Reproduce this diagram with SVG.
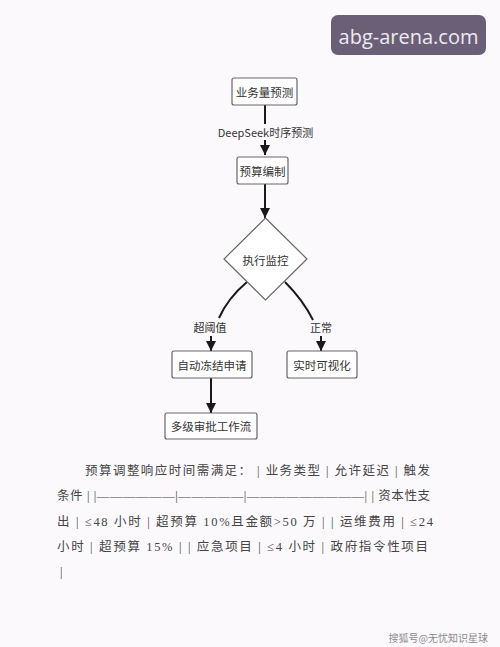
<svg xmlns="http://www.w3.org/2000/svg" width="500" height="647" viewBox="0 0 500 647">
<style>
.node{fill:#fff;stroke:#666;stroke-width:1.2}
.nt{font-family:"Noto Sans CJK SC","Liberation Sans",sans-serif;font-size:11.5px;fill:#333;text-anchor:middle;dominant-baseline:central}
.el{font-family:"Noto Sans CJK SC","Liberation Sans",sans-serif;font-size:11px;fill:#333;text-anchor:middle;dominant-baseline:central}
.edge{fill:none;stroke:#1a1a1a;stroke-width:2}
.body{font-family:"Liberation Serif","Noto Sans CJK SC",serif;font-size:12.5px;fill:#444}
</style>
<defs>
<marker id="ah" viewBox="0 0 10 10" refX="10" refY="5" markerWidth="5" markerHeight="5" orient="auto" markerUnits="strokeWidth">
<path d="M0,0 L10,5 L0,10 z" fill="#1a1a1a"/>
</marker>
</defs>
<rect width="500" height="647" fill="#fcf9fd"/>
<g id="watermark">
<rect x="331" y="15" width="155" height="40" rx="7" fill="#6b5f78"/>
<text x="408.5" y="36" font-family="Open Sans,'Noto Sans',sans-serif" font-size="20" fill="#eeeaf2" text-anchor="middle" dominant-baseline="central">abg-arena.com</text>
</g>
<g id="connectors">
<line class="edge" x1="265" y1="105" x2="265" y2="155" marker-end="url(#ah)"/>
<rect x="216" y="124" width="100" height="16" fill="#fcf9fd"/>
<text class="el" x="265.5" y="132">DeepSeek时序预测</text>
<line class="edge" x1="265" y1="184" x2="265" y2="218" marker-end="url(#ah)"/>
<path class="edge" d="M247,282 Q228,298 219,318"/>
<text class="el" x="210" y="327">超阈值</text>
<line class="edge" x1="211" y1="336" x2="211" y2="351" marker-end="url(#ah)"/>
<path class="edge" d="M285,282 Q303,300 313,320"/>
<text class="el" x="321" y="327">正常</text>
<line class="edge" x1="321" y1="336" x2="321" y2="351" marker-end="url(#ah)"/>
<line class="edge" x1="211" y1="378" x2="211" y2="413" marker-end="url(#ah)"/>
</g>
<g id="n1"><rect class="node" x="232" y="78" width="65" height="27" rx="2"/><text class="nt" x="264.5" y="91.5">业务量预测</text></g>
<g id="n2"><rect class="node" x="237" y="157" width="51" height="27" rx="2"/><text class="nt" x="262.5" y="170.5">预算编制</text></g>
<g id="n3"><polygon class="node" points="265.5,218 307,259 265.5,300 224,259"/><text class="nt" x="265.5" y="259.5">执行监控</text></g>
<g id="n4"><rect class="node" x="172" y="351" width="80" height="27" rx="2"/><text class="nt" x="212" y="364.5">自动冻结申请</text></g>
<g id="n5"><rect class="node" x="287" y="351" width="70" height="27" rx="2"/><text class="nt" x="322" y="364.5">实时可视化</text></g>
<g id="n6"><rect class="node" x="165" y="413" width="92" height="26" rx="2"/><text class="nt" x="211" y="426">多级审批工作流</text></g>
<g id="para">
<text class="body" x="85" y="475" textLength="345" lengthAdjust="spacing">预算调整响应时间需满足： | 业务类型 | 允许延迟 | 触发</text>
<text class="body" x="57" y="500" textLength="373" lengthAdjust="spacing">条件 | |——————|—————|—————————| | 资本性支</text>
<text class="body" x="57" y="526" textLength="376" lengthAdjust="spacing">出 | ≤48 小时 | 超预算 10%且金额&gt;50 万 | | 运维费用 | ≤24</text>
<text class="body" x="57" y="551" textLength="371" lengthAdjust="spacing">小时 | 超预算 15% | | 应急项目 | ≤4 小时 | 政府指令性项目</text>
<text class="body" x="60" y="576">|</text>
</g>
<text x="488" y="637" font-family="'Noto Sans CJK SC',sans-serif" font-size="10" fill="#8a8a8a" text-anchor="end" dominant-baseline="central">搜狐号@无忧知识星球</text>
</svg>
